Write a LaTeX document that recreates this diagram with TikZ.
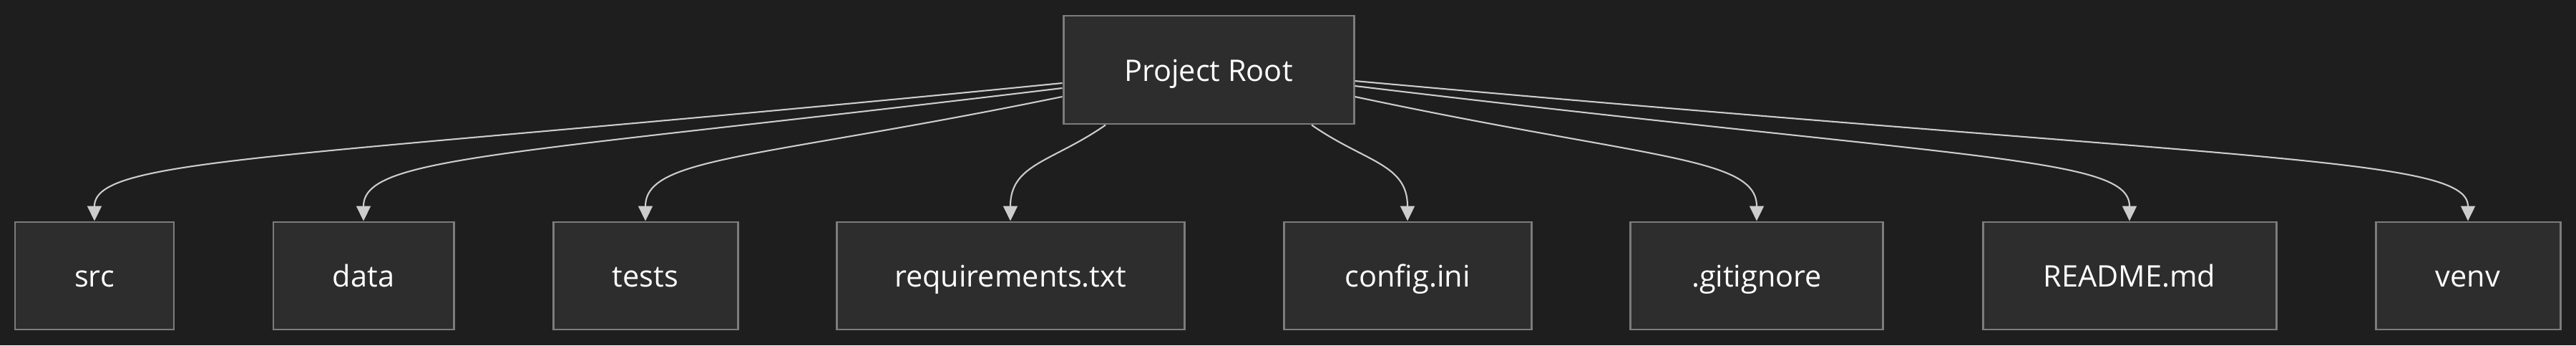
\documentclass[tikz,border=0pt]{standalone}
\usepackage{fontspec}
\setmainfont{Open Sans}
\usetikzlibrary{arrows.meta}
\definecolor{canvas}{HTML}{1E1E1E}
\definecolor{boxfill}{HTML}{2D2D2D}
\definecolor{boxline}{HTML}{7C7C7C}
\definecolor{wire}{HTML}{CCCCCC}
\tikzstyle{entry}=[draw=boxline, fill=boxfill, line width=0.85pt, minimum height=1.5cm, inner sep=0, text height=3.2mm, text depth=0mm, text=white, font=\fontsize{11.8pt}{14pt}\selectfont]
\tikzstyle{link}=[draw=wire, line width=0.6pt, -{Triangle[length=2.1mm, width=2mm]}]

\begin{document}
\begin{tikzpicture}
      \fill[canvas] (0, 0) rectangle (36, 4.82);
      \useasboundingbox (0, 0) rectangle (36, 4.82);

      \node[entry, minimum width=4.06cm, minimum height=1.51cm] (root) at (16.89, 3.845) {Project Root};

      \node[entry, minimum width=2.22cm] (src) at (1.32, 0.97) {src};
      \node[entry, minimum width=2.52cm] (data) at (5.08, 0.97) {data};
      \node[entry, minimum width=2.58cm] (tests) at (9.02, 0.97) {tests};
      \node[entry, minimum width=4.86cm] (requirements) at (14.12, 0.97) {requirements.txt};
      \node[entry, minimum width=3.46cm] (config) at (19.67, 0.97) {config.ini};
      \node[entry, minimum width=3.53cm] (gitignore) at (24.55, 0.97) {.gitignore};
      \node[entry, minimum width=4.10cm] (readme) at (29.76, 0.97) {README.md};
      \node[entry, minimum width=2.58cm] (venv) at (34.49, 0.97) {venv};

      \draw[link] ([yshift=-1.85mm]root.west)
        .. controls +(-10.83, -1.07) and +(0, 0.9) .. (src.north);
      \draw[link] ([yshift=-2.55mm]root.west)
        .. controls +(-7.82, -0.94) and +(0, 0.9) .. (data.north);
      \draw[link] ([yshift=-3.75mm]root.west)
        .. controls +(-4.26, -0.87) and +(0, 0.9) .. (tests.north);
      \draw[link] ([xshift=-14.4mm]root.south)
        .. controls +(-0.75, -0.52) and +(0, 0.8) .. (requirements.north);
      \draw[link] ([xshift=14.4mm]root.south)
        .. controls +(0.75, -0.52) and +(0, 0.8) .. (config.north);
      \draw[link] ([yshift=-3.75mm]root.east)
        .. controls +(4.1, -0.87) and +(0, 0.9) .. (gitignore.north);
      \draw[link] ([yshift=-2.25mm]root.east)
        .. controls +(8.67, -1.04) and +(0, 0.9) .. (readme.north);
      \draw[link] ([yshift=-1.55mm]root.east)
        .. controls +(12.45, -1.12) and +(0, 0.9) .. (venv.north);
    \end{tikzpicture}
\end{document}
